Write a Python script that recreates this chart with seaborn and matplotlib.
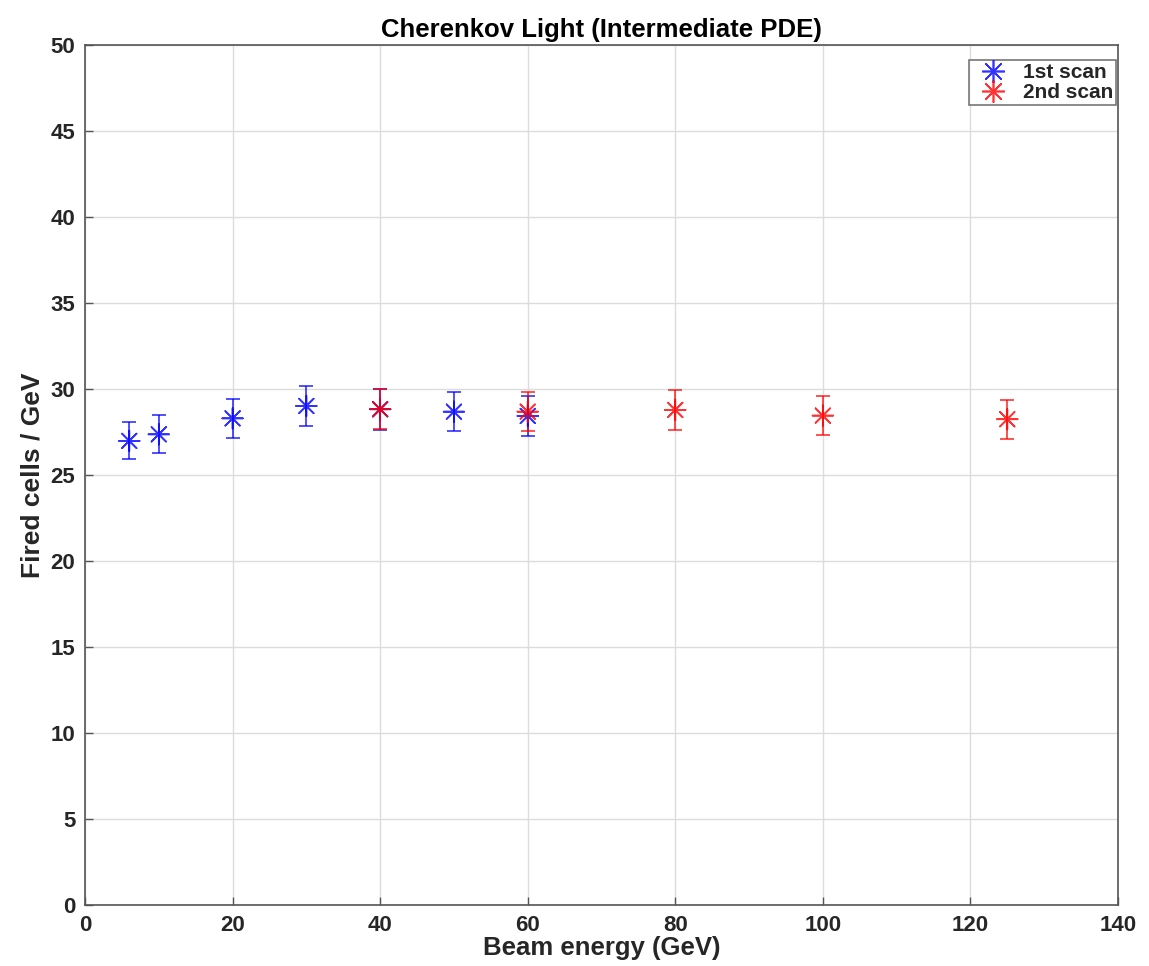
import numpy as np
import pandas as pd
import matplotlib
matplotlib.use("Agg")
import matplotlib.pyplot as plt
import seaborn as sns

energy_1st = [6, 10, 20, 30, 40, 50, 60]
cells_1st = [27.0, 27.38, 28.31, 29.03, 28.84, 28.70, 28.45]
err_1st = [1.08, 1.10, 1.15, 1.17, 1.18, 1.15, 1.15]

energy_2nd = [40, 60, 80, 100, 125]
cells_2nd = [28.84, 28.70, 28.80, 28.47, 28.26]
err_2nd = [1.16, 1.15, 1.15, 1.15, 1.13]

scan_names = ["1st scan", "2nd scan"]
scan_colors = ["#0000ff", "#ff0000"]

df = pd.concat([
    pd.DataFrame({"energy": energy_1st, "cells": cells_1st, "err": err_1st, "scan": scan_names[0]}),
    pd.DataFrame({"energy": energy_2nd, "cells": cells_2nd, "err": err_2nd, "scan": scan_names[1]}),
], ignore_index=True)

sns.set_style("whitegrid", {"grid.color": "#dcdcdc", "axes.edgecolor": "#555555",
                            "xtick.bottom": True, "ytick.left": True})
plt.rcParams["font.family"] = ["Liberation Sans", "DejaVu Sans"]
plt.rcParams["font.weight"] = "bold"

fig = plt.figure(figsize=(11.49, 9.66), dpi=100)
ax = fig.add_axes([0.074, 0.063, 0.899, 0.890])

star = (8, 2, 0)
for name, col in zip(scan_names, scan_colors):
    sub = df[df["scan"] == name]
    ax.errorbar(sub["energy"], sub["cells"], yerr=sub["err"], fmt="none",
                ecolor=col, elinewidth=1.2, capsize=5, capthick=1.2, alpha=0.8, zorder=3)

sns.scatterplot(data=df, x="energy", y="cells", hue="scan", palette=scan_colors,
                marker=star, s=220, linewidth=1.2, alpha=0.8, ax=ax, zorder=4)

ax.set_xlim(0, 140)
ax.set_ylim(0, 50)
ax.set_xticks(np.arange(0, 141, 20))
ax.set_yticks(np.arange(0, 51, 5))
ax.tick_params(axis="both", direction="in", length=6, width=1, colors="#555555",
               labelsize=16, labelcolor="#262626", pad=7)
for lab in ax.get_xticklabels() + ax.get_yticklabels():
    lab.set_fontweight("bold")
ax.grid(True, color="#dcdcdc", linewidth=1)
for sp in ax.spines.values():
    sp.set_color("#555555")
    sp.set_linewidth(1.2)

ax.set_xlabel("Beam energy (GeV)", fontsize=18.5, fontweight="bold", color="#262626", labelpad=0)
ax.set_ylabel("Fired cells / GeV", fontsize=19, fontweight="bold", color="#262626", labelpad=4)
ax.set_title("Cherenkov Light (Intermediate PDE)", fontsize=18.5, fontweight="bold", color="black", pad=6)

leg = ax.legend(loc="upper right", bbox_to_anchor=(0.998, 0.983), fontsize=15, frameon=True,
                fancybox=False, edgecolor="#555555", borderpad=0.15, handletextpad=0.4,
                labelspacing=0.05, borderaxespad=0.0, handlelength=2.0, markerscale=1.1)
leg.get_frame().set_linewidth(1.2)
for t in leg.get_texts():
    t.set_fontweight("bold")

fig.savefig("out.png", dpi=100)
